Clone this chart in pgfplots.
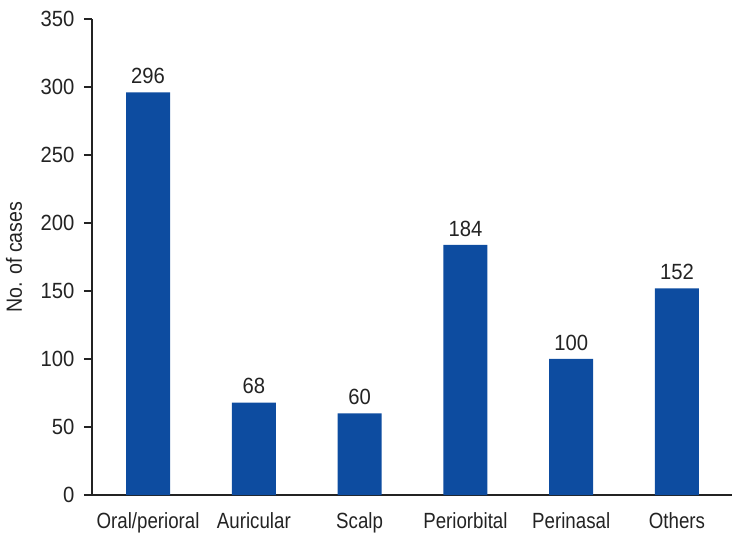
\documentclass[border=0pt]{standalone}
\usepackage{fontspec}
\setmainfont{Liberation Sans}[FakeStretch=0.85]
\newfontfamily\numfont{Liberation Sans}[FakeStretch=0.92]
\newfontfamily\labfont{Liberation Sans}[FakeStretch=0.89]
\usepackage{pgfplots}
\pgfplotsset{compat=1.18}
\definecolor{barblue}{RGB}{13,76,160}
\definecolor{axisgray}{RGB}{35,35,35}
\begin{document}
\begin{tikzpicture}
\useasboundingbox (-92bp,-44bp) rectangle (650bp,495bp);
\begin{axis}[
  scale only axis, width=640bp, height=476bp,
  xmin=-0.53, xmax=5.52, ymin=0, ymax=350,
  axis lines*=left,
  axis line style={draw=axisgray, line width=1.5bp},
  ytick={0,50,...,350},
  xtick={0,1,2,3,4,5},
  xticklabels={Oral/perioral,Auricular,Scalp,Periorbital,Perinasal,Others},
  xtick style={draw=none},
  ytick style={draw=axisgray, line width=1.5bp},
  tick align=outside, major tick length=8bp,
  /pgf/number format/assume math mode=true,
  xticklabel style={font=\fontsize{22bp}{26bp}\selectfont, text=axisgray, yshift=-6bp},
  yticklabel style={font=\numfont\fontsize{22bp}{26bp}\selectfont, text=axisgray, xshift=-6bp},
  ylabel={No. of cases},
  ylabel style={font=\labfont\fontsize{22bp}{26bp}\selectfont, text=axisgray, at={(axis description cs:-0.1220,0.5)}, anchor=center},
  ybar, bar width=44bp,
  nodes near coords,
  nodes near coords style={font=\numfont\fontsize{22bp}{26bp}\selectfont, text=axisgray, /pgf/number format/assume math mode=true, yshift=5bp},
]
\addplot[fill=barblue, draw=none] coordinates {(0,296) (1,68) (2,60) (3,184) (4,100) (5,152)};
\end{axis}
\end{tikzpicture}
\end{document}
